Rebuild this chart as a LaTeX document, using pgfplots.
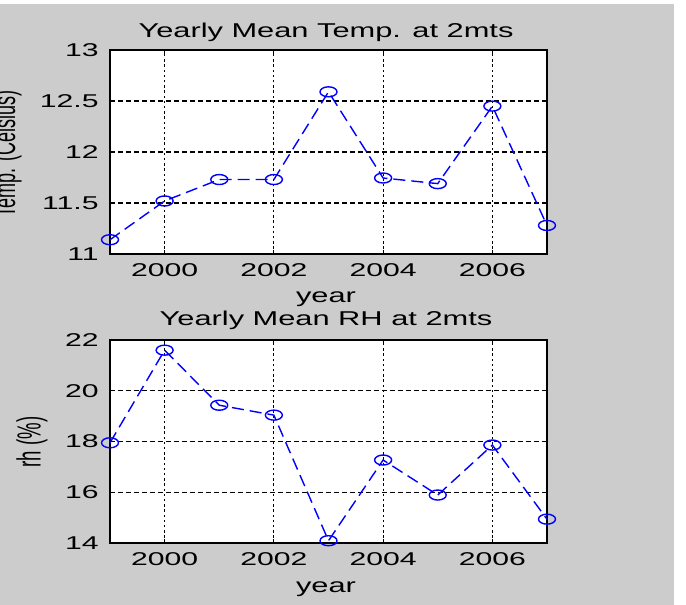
\documentclass[border=0pt]{standalone}
\usepackage{graphicx}
\usepackage{pgfplots}
\pgfplotsset{compat=1.18}
\usepackage{fontspec}
\setmainfont{Liberation Sans}
\newfontfamily\tickfont{Liberation Sans}[FakeStretch=1.63]
\newfontfamily\labfont{Liberation Sans}[FakeStretch=1.54]
\newfontfamily\plainfont{Liberation Sans}
\definecolor{figgray}{RGB}{204,204,204}

\begin{document}
\begin{tikzpicture}
\fill[white] (0,0) rectangle (343pt,-302.5pt);
\fill[figgray] (0,-2pt) rectangle (337pt,-302.5pt);

\pgfplotsset{mystyle/.style={
  scale only axis, width=218.5pt,
  xmin=1999, xmax=2007,
  xtick={2000,2002,2004,2006},
  clip=false,
  axis background/.style={fill=white},
  axis line style={black, line width=0.8pt},
  tick style={black, line width=0.5pt},
  major tick length=2pt,
  tick align=inside,
  xmajorgrids, ymajorgrids,
  x grid style={black, line width=0.55pt, dash pattern=on 1.2pt off 1.4pt},
  y grid style={black, line width=0.55pt, dash pattern=on 2.25pt off 1.75pt},
  /pgf/number format/assume math mode=true,
  /pgf/number format/1000 sep={},
  ticklabel style={font={\tickfont\fontsize{9.25pt}{10pt}\selectfont}},
  xticklabel style={anchor=north, inner sep=0pt, yshift=-4.5pt},
  yticklabel style={anchor=east, inner sep=0pt, xshift=-5.5pt},
}}

\begin{axis}[mystyle, at={(55pt,-127pt)}, anchor=south west, height=102pt,
  ymin=11, ymax=13, ytick={11,11.5,12,12.5,13}]
\addplot[blue, line width=0.7pt, dash pattern=on 6pt off 3pt, mark=o, mark size=2.5pt,
  mark options={solid, xscale=1.7, line width=0.7pt}] coordinates {
  (1999,11.14) (2000,11.52) (2001,11.73) (2002,11.73) (2003,12.59)
  (2004,11.745) (2005,11.69) (2006,12.45) (2007,11.28)};
\end{axis}

\begin{axis}[mystyle, at={(55pt,-271.5pt)}, anchor=south west, height=101.5pt,
  ymin=14, ymax=22, ytick={14,16,18,20,22}]
\addplot[blue, line width=0.7pt, dash pattern=on 6pt off 3pt, mark=o, mark size=2.5pt,
  mark options={solid, xscale=1.7, line width=0.7pt}] coordinates {
  (1999,17.95) (2000,21.6) (2001,19.43) (2002,19.04) (2003,14.09)
  (2004,17.27) (2005,15.89) (2006,17.86) (2007,14.94)};
\end{axis}

\node[font={\labfont\fontsize{10pt}{12pt}\selectfont}, anchor=base, inner sep=0pt] at (163pt,-18.5pt) {Yearly Mean Temp. at 2mts};
\node[font={\labfont\fontsize{10pt}{12pt}\selectfont}, anchor=base, inner sep=0pt] at (163pt,-162.5pt) {Yearly Mean RH at 2mts};
\node[font={\labfont\fontsize{10pt}{12pt}\selectfont}, anchor=base, inner sep=0pt] at (163pt,-151pt) {year};
\node[font={\labfont\fontsize{10pt}{12pt}\selectfont}, anchor=base, inner sep=0pt] at (163pt,-296pt) {year};
\node[anchor=east, inner sep=0pt] at (11pt,-77pt) {\scalebox{1.75}[1]{\rotatebox{90}{\plainfont\fontsize{9pt}{10pt}\selectfont Temp. (Celsius)}}};
\node[anchor=east, inner sep=0pt] at (24pt,-221pt) {\scalebox{1.8}[1]{\rotatebox{90}{\plainfont\fontsize{9.3pt}{10pt}\selectfont rh (\%)}}};

\pgfresetboundingbox
\useasboundingbox (0,0) rectangle (343pt,-302.5pt);
\end{tikzpicture}
\end{document}
